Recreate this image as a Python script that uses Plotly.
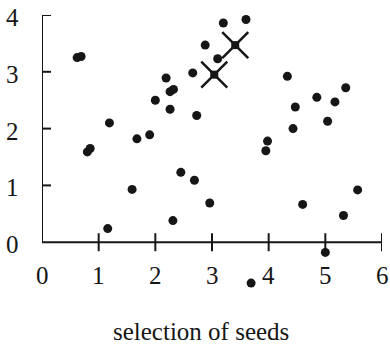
import plotly.graph_objects as go

# Seed candidates (x, y)
seed_x = [0.62, 0.69, 0.80, 0.85, 1.19, 1.675, 1.90, 2.00, 2.19, 2.26, 2.32, 2.26,
          2.66, 2.73, 3.20, 3.60, 2.88, 3.10, 4.33, 4.47, 4.85, 5.17, 5.36, 4.43,
          5.04, 3.98, 3.95, 2.45, 2.69, 1.59, 1.16, 2.31, 2.96, 4.60, 5.32, 5.57,
          5.00, 3.69]
seed_y = [3.25, 3.27, 1.59, 1.65, 2.10, 1.82, 1.89, 2.50, 2.89, 2.65, 2.69, 2.34,
          2.98, 2.23, 3.86, 3.92, 3.47, 3.23, 2.92, 2.38, 2.55, 2.47, 2.72, 2.00,
          2.13, 1.78, 1.61, 1.23, 1.09, 0.93, 0.24, 0.38, 0.69, 0.665, 0.47, 0.92,
          -0.18, -0.72]

# Selected seeds
chosen_x = [3.04, 3.41]
chosen_y = [2.95, 3.47]

x_ticks = [0, 1, 2, 3, 4, 5, 6]
y_ticks = [0, 1, 2, 3, 4]
x_label = "selection of seeds"

INK = "#161616"
FONT = "Liberation Serif, DejaVu Serif, serif"
FS = 25

fig = go.Figure()
fig.add_trace(go.Scatter(x=seed_x, y=seed_y, mode="markers",
                         marker=dict(size=9, color=INK), hoverinfo="skip"))
fig.add_trace(go.Scatter(x=chosen_x, y=chosen_y, mode="markers",
                         marker=dict(size=26, symbol="x-thin-open", color=INK,
                                     line=dict(width=2.5, color=INK)),
                         hoverinfo="skip"))
fig.add_trace(go.Scatter(x=chosen_x, y=chosen_y, mode="markers",
                         marker=dict(size=8, symbol="square", color=INK),
                         hoverinfo="skip"))

# Axis lines through the origin
fig.add_shape(type="line", xref="x", yref="y", x0=x_ticks[0], x1=x_ticks[-1], y0=0, y1=0,
              line=dict(color=INK, width=2))
fig.add_shape(type="line", xref="x", yref="y", x0=0, x1=0, y0=y_ticks[0], y1=y_ticks[-1],
              line=dict(color=INK, width=2))

# Tick marks crossing the axis lines, with their labels
for v in x_ticks:
    if v:
        fig.add_shape(type="line", xref="x", yref="y", x0=v, x1=v,
                      ysizemode="pixel", yanchor=0, y0=-9, y1=9,
                      line=dict(color=INK, width=2))
    fig.add_annotation(text=str(v), x=v, y=0, xref="x", yref="y",
                       showarrow=False, xanchor="center", yanchor="middle",
                       yshift=-33, font=dict(family=FONT, size=FS, color=INK))
for v in y_ticks:
    if v:
        fig.add_shape(type="line", xref="x", yref="y", y0=v, y1=v,
                      xsizemode="pixel", xanchor=0, x0=-9, x1=9,
                      line=dict(color=INK, width=2))
    fig.add_annotation(text=str(v), x=0, y=v, xref="x", yref="y",
                       showarrow=False, xanchor="right", yanchor="middle",
                       xshift=-21, yshift=-2.5,
                       font=dict(family=FONT, size=FS, color=INK))

fig.add_annotation(text=x_label, xref="x", yref="y", x=2.81, y=0,
                   showarrow=False, xanchor="center", yanchor="middle",
                   yshift=-89, font=dict(family=FONT, size=FS, color=INK))

fig.update_layout(
    width=390, height=347,
    margin=dict(l=42, r=8, t=15, b=48),
    paper_bgcolor="white", plot_bgcolor="white",
    showlegend=False,
    xaxis=dict(range=[0, 6], visible=False, fixedrange=True),
    yaxis=dict(range=[-1, 4], visible=False, fixedrange=True),
)

fig.write_html("out.html")
